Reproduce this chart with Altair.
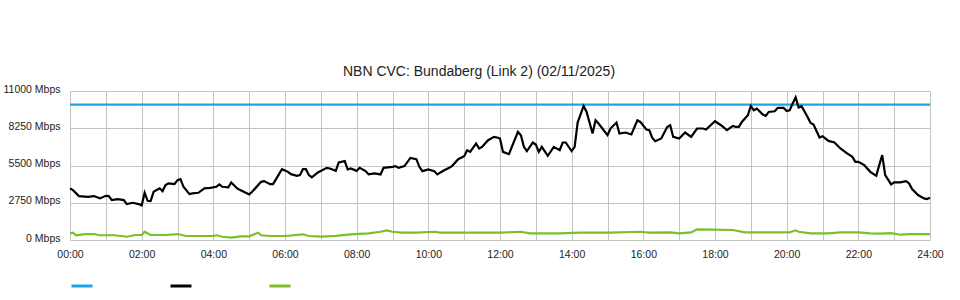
import altair as alt
import pandas as pd

# Time in minutes since 00:00, values in Mbps
down_minutes = [0, 5, 15, 30, 40, 50, 60, 65, 70, 80, 90, 95, 105, 115, 120, 125, 130, 135, 140, 150,
                155, 160, 165, 175, 180, 185, 190, 200, 205, 215, 225, 235, 245, 250, 255, 265, 270, 280,
                285, 300, 305, 320, 325, 335, 340, 350, 355, 365, 370, 380, 385, 390, 395, 400, 405, 415,
                430, 435, 445, 450, 460, 465, 470, 480, 485, 495, 500, 510, 520, 525, 540, 545, 550, 560,
                570, 580, 585, 590, 600, 610, 615, 625, 635, 640, 650, 660, 665, 670, 680, 685, 690, 700,
                710, 715, 720, 725, 735, 750, 755, 760, 765, 775, 780, 785, 790, 800, 810, 820, 825, 830,
                840, 845, 850, 860, 865, 875, 880, 885, 900, 905, 915, 920, 930, 940, 950, 955, 965, 970,
                975, 980, 990, 1000, 1005, 1010, 1020, 1030, 1040, 1050, 1060, 1065, 1080, 1090, 1100,
                1110, 1115, 1120, 1125, 1135, 1140, 1145, 1150, 1160, 1165, 1170, 1180, 1185, 1195, 1200,
                1205, 1210, 1215, 1220, 1225, 1235, 1240, 1245, 1255, 1260, 1270, 1280, 1290, 1300, 1310,
                1315, 1320, 1330, 1340, 1350, 1355, 1360, 1365, 1375, 1380, 1390, 1400, 1405, 1410, 1420,
                1430, 1435, 1440]
down_values = [3809, 3684, 3242, 3190, 3242, 3072, 3264, 3242, 2947, 3021, 2947, 2652, 2748, 2652, 2557,
               3485, 2896, 2874, 3559, 3809, 3610, 4052, 4178, 4126, 4421, 4494, 3927, 3389, 3441, 3485,
               3809, 3853, 3927, 4104, 3927, 3883, 4251, 3809, 3684, 3367, 3559, 4296, 4347, 4126, 4126,
               4863, 5231, 5032, 4863, 4738, 4789, 5231, 5231, 4789, 4620, 4988, 5327, 5283, 5106, 5725,
               5821, 5209, 5283, 5106, 5327, 5084, 4841, 4914, 4841, 5327, 5401, 5452, 5327, 5452, 6064,
               5968, 5401, 5084, 5209, 5084, 4841, 5106, 5327, 5474, 5968, 6189, 6631, 6506, 7125, 6756,
               6874, 7368, 7611, 7567, 7492, 6506, 6336, 7980, 7736, 6874, 6558, 7198, 7051, 6506, 6874,
               6211, 6874, 6631, 7198, 7198, 6558, 6874, 8672, 9895, 9453, 7862, 8842, 8598, 7736, 8230,
               8672, 7862, 7935, 7788, 8842, 8716, 8156, 8105, 7537, 7294, 7493, 8348, 8473, 7611, 7493,
               7935, 7611, 8230, 8230, 8156, 8768, 8473, 8105, 8422, 8348, 8348, 8716, 9210, 9895, 9578,
               9704, 9262, 9158, 9453, 9505, 9748, 9748, 9527, 9578, 10072, 10536, 9777, 9873, 9085, 8643,
               8525, 7567, 7663, 7316, 7198, 6756, 6432, 6138, 5769, 5769, 5526, 5032, 4738, 5526, 6263,
               4789, 4104, 4251, 4251, 4347, 4178, 3758, 3316, 3072, 3021, 3117]

up_minutes = [0, 5, 10, 25, 40, 50, 75, 95, 110, 120, 125, 135, 160, 180, 195, 220, 240, 245, 255, 270,
              285, 300, 315, 320, 335, 360, 390, 400, 420, 445, 470, 500, 520, 530, 540, 555, 580, 610,
              620, 670, 720, 755, 770, 820, 855, 905, 955, 970, 1005, 1020, 1040, 1050, 1075, 1110,
              1130, 1170, 1205, 1215, 1220, 1240, 1270, 1290, 1320, 1340, 1355, 1375, 1390, 1405, 1440]
up_values = [490, 540, 350, 440, 440, 350, 350, 240, 370, 370, 610, 370, 370, 440, 295, 295, 295, 350,
             240, 170, 270, 270, 540, 350, 295, 295, 420, 295, 245, 300, 420, 490, 610, 715, 610, 540,
             540, 610, 540, 540, 540, 610, 490, 490, 540, 540, 610, 540, 560, 490, 560, 785, 760, 737,
             565, 565, 565, 715, 610, 490, 490, 560, 560, 490, 465, 500, 390, 440, 440]

capacity_minutes = [0, 1440]
capacity_values = [10000, 10000]

series_names = ["Capacity", "Download", "Upload"]
series_colors = ["#1ea4e3", "#000000", "#79c12b"]
y_ticks = [0, 2750, 5500, 8250, 11000]
x_ticks = list(range(0, 1441, 60))

frames = [
    pd.DataFrame({"minute": capacity_minutes, "mbps": capacity_values, "series": series_names[0]}),
    pd.DataFrame({"minute": down_minutes, "mbps": down_values, "series": series_names[1]}),
    pd.DataFrame({"minute": up_minutes, "mbps": up_values, "series": series_names[2]}),
]
df = pd.concat(frames, ignore_index=True)
df["order"] = df["series"].map({"Upload": 0, "Download": 1, "Capacity": 2})

FONT = "Liberation Sans"

chart = (
    alt.Chart(df)
    .mark_line(strokeWidth=2.2, interpolate="linear")
    .encode(
        x=alt.X(
            "minute:Q",
            scale=alt.Scale(domain=[0, 1440], nice=False, zero=False),
            axis=alt.Axis(
                values=x_ticks,
                labelExpr="datum.value % 120 == 0 ? ((datum.value < 600 ? '0' : '') + (datum.value / 60) + ':00') : ''",
                title=None,
                domain=False,
                ticks=False,
                grid=True,
                labelPadding=9,
                labelFlush=False,
            ),
        ),
        y=alt.Y(
            "mbps:Q",
            scale=alt.Scale(domain=[0, 11000], nice=False),
            axis=alt.Axis(
                values=y_ticks,
                labelExpr="datum.value + ' Mbps'",
                title=None,
                domain=False,
                ticks=False,
                grid=True,
                labelPadding=10,
                labelOffset=-2,
            ),
        ),
        color=alt.Color(
            "series:N",
            scale=alt.Scale(domain=series_names, range=series_colors),
            legend=alt.Legend(
                title=None,
                orient="none",
                legendX=0,
                legendY=183,
                direction="horizontal",
                symbolType="stroke",
                symbolSize=441,
                symbolStrokeWidth=3,
                labelExpr="''",
                labelOffset=0,
                columnPadding=65,
                padding=0,
            ),
        ),
        detail="series:N",
        order=alt.Order("order:Q"),
    )
    .properties(
        width=860,
        height=149,
        title=alt.TitleParams(
            "NBN CVC: Bundaberg (Link 2) (02/11/2025)",
            font=FONT,
            fontSize=14,
            fontWeight="normal",
            color="#222222",
            anchor="middle",
            dx=-21,
            offset=5,
        ),
        autosize=alt.AutoSizeParams(type="none"),
        padding={"left": 70, "top": 91, "right": 30, "bottom": 60},
    )
    .configure_view(stroke=None)
    .configure_axis(
        gridColor="#c4c4c4",
        gridWidth=1,
        labelFont=FONT,
        labelFontSize=10.5,
        labelColor="#222222",
    )
)

chart.save("out.html", embed_options={"renderer": "svg", "actions": False})
